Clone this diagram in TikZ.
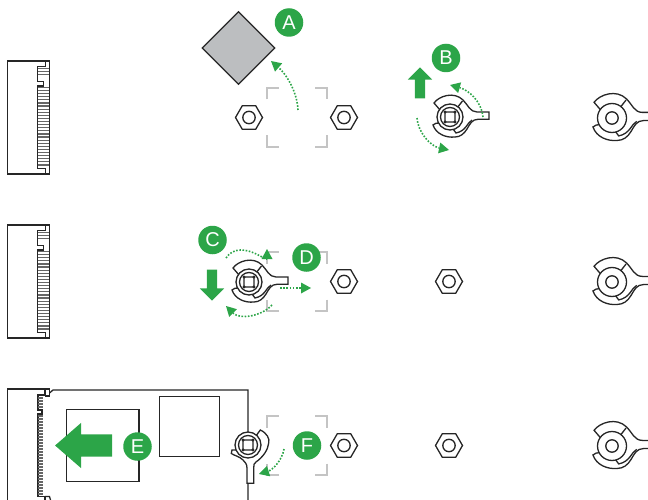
\documentclass[tikz,border=0pt]{standalone}
\usepackage{fontspec}
\setsansfont{Liberation Sans}
\usetikzlibrary{
  positioning, arrows.meta, shapes.geometric, shapes.arrows
}
\definecolor{mbgreen}{HTML}{2CA548}
\definecolor{mbgrey}{HTML}{BCBEC0}
\definecolor{mbbracket}{HTML}{C4C4C4}
\definecolor{mbline}{HTML}{262626}

\tikzset{
  badge/.style={circle, fill=mbgreen, text=white, minimum size=28.5pt, inner sep=0pt, font=\sffamily\fontsize{20}{20}\selectfont},
  bigarrow/.style={single arrow, fill=mbgreen, single arrow head indent=0pt},
  dotflow/.style={draw=mbgreen, line width=1.6pt, dash pattern=on 1.6pt off 1.6pt, -{Triangle[length=10pt,width=11pt,line width=0pt]}},
  outline/.style={draw=mbline, line width=1.3pt},
  hexnut/.pic={
    \draw[outline] (0:13.5) -- (60:13.5) -- (120:13.5) -- (180:13.5) -- (240:13.5) -- (300:13.5) -- cycle;
    \draw[outline] (0,0) circle (6.2);
  },
  bracket/.pic={
    \draw[mbbracket, line width=1.2pt] (-30,-18) -- (-30,-29.5) -- (-18,-29.5);
    \draw[mbbracket, line width=1.2pt] (18,-29.5) -- (30,-29.5) -- (30,-18);
    \draw[mbbracket, line width=1.2pt] (30,18) -- (30,29.5) -- (18,29.5);
    \draw[mbbracket, line width=1.2pt] (-18,29.5) -- (-30,29.5) -- (-30,18);
  },
  wrench/.pic={
    \draw[outline, fill=white] (-16,-14) .. controls (-11,-21) and (4,-26) .. (13,-17)
      .. controls (18,-12) and (20,-5) .. (27,-5) -- (39,-5) -- (39,2.3) -- (28,2.3)
      .. controls (22,2.3) and (20,7) .. (17,12) .. controls (14,17) and (10,20) .. (5,20)
      .. controls (-4,21) and (-14,17) .. (-17,8) .. controls (-15,6) and (-13,6) .. (-11,6)
      -- (-10,-7) -- cycle;
    \draw[outline] (12.5,-16) -- (7,-9);
    \draw[outline] (22,3) .. controls (17,6) and (16,14) .. (6,16) -- (3,12);
  },
  wrenchdown/.pic={
    \draw[outline, fill=white] (12.3,-15) .. controls (19,-12) and (22,-6) .. (20.7,-2)
      .. controls (20,5) and (15,12) .. (8,17) .. controls (6,18) and (5.7,20) .. (5.7,23)
      -- (5.7,38.3) -- (-1,38.3) -- (-1,23) .. controls (-1,19) and (-3,17) .. (-5,15)
      .. controls (-9,11) and (-13,11) .. (-16.7,8.5) -- (-16,5) -- (-10,5) -- (5,-5) -- cycle;
  },
  standoff/.pic={
    \draw[outline, fill=white] (0,0) circle (14.5);
    \draw[outline] (0,0) circle (6.2);
  },
  screwhead/.pic={
    \draw[outline, fill=white] (0,0) circle (13);
    \draw[outline] (0,0) circle (9.5);
    \draw[outline, rounded corners=1pt] (-5,-5) rectangle (5,5);
    \foreach \sx/\sy in {-5/-5, 5/-5, 5/5, -5/5}
      \fill[mbline] (\sx,\sy) circle (1.6);
  },
  socket/.pic={
    \draw[outline] (0,0) rectangle (41.7,113);
    \draw[outline] (37.7,0) -- (37.7,5.7) -- (30,5.7) -- (30,20.7) -- (36,20.7) -- (36,25) -- (30,25) -- (30,107.3) -- (37.7,107.3) -- (37.7,113);
    % contacts
    \foreach \ty in {7.4,10.5,13.6}
      \draw[black!60, line width=1.2pt] (30,\ty) -- (41.7,\ty);
    \foreach \ty in {26.5,29.6,...,106}
      \draw[black!60, line width=1.2pt] (30,\ty) -- (41.7,\ty);
  },
}

\begin{document}
\begin{tikzpicture}[x=1pt, y=-1pt, >=Stealth]
    \clip (0,0) rectangle (648,500);

    % Row 1
    \pic (sockA) at (7.5,61) {socket};
    \node[diamond, aspect=1, draw=mbline, line width=1.2pt, fill=mbgrey, minimum size=73pt, inner sep=0pt] (module) at (238.5,48) {};
    \node[badge] (A) at (289,22.5) {A};
    \pic (brA) at (297,117.5) {bracket};
    \pic (nutA) at (249,117.5) {hexnut};
    \pic (nutB) at (344,117.5) {hexnut};
    \coordinate (aS) at (298,110);
    \coordinate (aE) at (271,61);
    \draw[dotflow] (aS) .. controls (297,90) and (285,73) .. (aE);

    \node[badge] (B) at (446,58) {B};
    \node[bigarrow, inner xsep=5pt, inner ysep=0pt, minimum height=31pt, single arrow head extend=7pt, shape border rotate=90] (liftB) at (420,85.5) {};
    \pic (wrB) at (450,117) {wrench};
    \pic (scrB) at (450,117) {screwhead};
    \coordinate (b1S) at (483,117);
    \coordinate (b1E) at (450,85);
    \coordinate (b2S) at (417,118);
    \coordinate (b2E) at (449,150);
    \draw[dotflow] (b1S) .. controls (481,100) and (468,90) .. (b1E);
    \draw[dotflow] (b2S) .. controls (418,132) and (430,146) .. (b2E);

    \pic[scale=1.12] (wrC) at (612,118) {wrench};
    \pic (offC) at (612,118) {standoff};

    % Row 2
    \pic (sockB) at (7.5,225) {socket};
    \pic (brB) at (297,281.5) {bracket};
    \pic (wrD) at (249,282) {wrench};
    \pic (scrD) at (249,282) {screwhead};
    \pic (nutC) at (344,281.5) {hexnut};
    \pic (nutD) at (449,281.5) {hexnut};
    \pic[scale=1.12] (wrE) at (612,282) {wrench};
    \pic (offE) at (612,282) {standoff};
    \node[badge] (C) at (212.5,240) {C};
    \node[badge] (D) at (306.5,257.5) {D};
    \node[bigarrow, inner xsep=5pt, inner ysep=0pt, minimum height=31pt, single arrow head extend=7pt, shape border rotate=270] (pushC) at (212,282.5) {};
    \coordinate (c1S) at (226,258);
    \coordinate (c1E) at (267,249);
    \coordinate (c2S) at (272,305);
    \coordinate (c2E) at (226,306);
    \coordinate (dS) at (280,288);
    \coordinate (dE) at (311,288);
    \draw[dotflow] (c1S) .. controls (240,238) and (267,262) .. (c1E);
    \draw[dotflow] (c2S) .. controls (262,316) and (240,320) .. (c2E);
    \draw[dotflow] (dS) -- (dE);

    % Row 3
    \draw[outline] (7.5,500) -- (7.5,389) -- (49.5,389) -- (49.5,396);
    \draw[outline] (45,389) -- (45,395) -- (38,395) -- (38,410) -- (42,410) -- (42,414) -- (38,414) -- (38,496.5) -- (45,496.5) -- (45,500);
    \draw[outline] (49.5,393) -- (53,390) -- (248,390) -- (248,500);
    \draw[outline] (45,396) -- (49.5,396);
    \draw[outline] (45,496.5) -- (49.5,496.5) -- (50.5,500);
    \foreach \ty in {398,401,...,408}
      \draw[black!60, line width=1.2pt] (38,\ty) -- (42.5,\ty);
    \foreach \ty in {416,419,...,495}
      \draw[black!60, line width=1.2pt] (38,\ty) -- (42.5,\ty);
    \node[draw=mbline, line width=1.2pt, minimum width=72.5pt, minimum height=72pt, inner sep=0pt] (chipA) at (102.75,445.5) {};
    \node[draw=mbline, line width=1.2pt, minimum width=60pt, minimum height=60pt, inner sep=0pt] (chipB) at (189.5,426.5) {};
    \node[bigarrow, inner xsep=0pt, inner ysep=11pt, minimum height=57pt, single arrow head extend=11.5pt, shape border rotate=180, single arrow tip angle=82] (slideE) at (90,445.5) {};
    \node[badge] (E) at (137.5,446.5) {E};
    \pic (brC) at (297,445.5) {bracket};
    \pic (wrF) at (248,445) {wrenchdown};
    \pic (scrF) at (248,445) {screwhead};
    \pic (nutE) at (344,445.5) {hexnut};
    \pic (nutF) at (449,445.5) {hexnut};
    \pic[scale=1.12] (wrG) at (612,446) {wrench};
    \pic (offG) at (612,446) {standoff};
    \node[badge] (F) at (307,445.5) {F};
    \coordinate (fS) at (284,449);
    \coordinate (fE) at (259,474);
    \draw[dotflow] (fS) .. controls (282,461) and (272,470) .. (fE);
  \end{tikzpicture}
\end{document}
